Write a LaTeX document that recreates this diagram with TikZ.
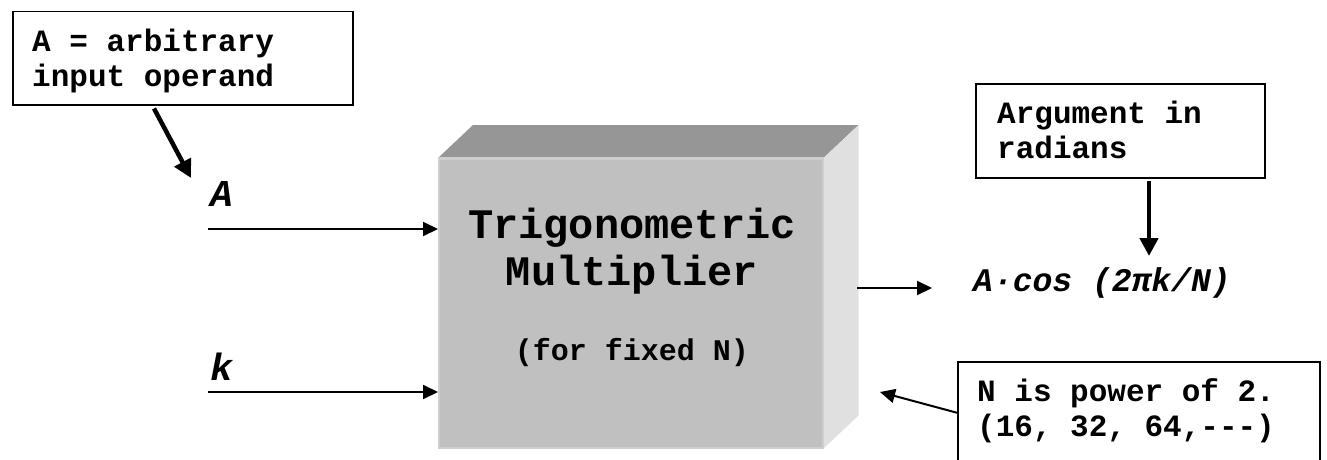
\documentclass[tikz,border=0pt]{standalone}
\usepackage{fontspec}
\setmainfont{Liberation Mono}[Ligatures=NoCommon]
\usetikzlibrary{arrows.meta,calc}
\definecolor{frontc}{RGB}{192,192,192}
\definecolor{topc}{RGB}{150,150,150}
\definecolor{sidec}{RGB}{224,224,224}
\definecolor{edgec}{RGB}{206,206,206}
\begin{document}
\begin{tikzpicture}[x=1pt,y=-1pt,
  note/.style={draw, line width=1.5pt, inner sep=0pt, anchor=north west},
  notetext/.style={font=\fontsize{31}{35}\selectfont\bfseries, align=left, inner sep=0pt, anchor=north west},
  siglabel/.style={font=\fontsize{38}{40}\selectfont\bfseries\itshape, inner sep=0pt},
  thinarrow/.style={line width=2pt, -{Triangle[length=15pt,width=14pt]}},
  thickarrow/.style={line width=4.5pt, -{Triangle[length=18pt,width=18pt]}},
  titlefont/.style={font=\fontsize{42}{47}\selectfont\bfseries, align=center, inner sep=0pt}
]
\useasboundingbox (0,0) rectangle (1327,460);

% 3D block
\node[fill=frontc, draw=edgec, line width=1.5pt, minimum width=384pt, minimum height=289pt, anchor=north west, inner sep=0pt] (mult) at (438,158) {};
\fill[topc] (mult.north west) -- ++(35,-33) -- ($(mult.north east)+(35,-33)$) -- (mult.north east) -- cycle;
\fill[sidec] (mult.north east) -- ++(35,-33) -- ($(mult.south east)+(35,-33)$) -- (mult.south east) -- cycle;
\draw[edgec, line width=1.5pt] (mult.north west) -- (mult.north east) -- (mult.south east);

\node[titlefont] (title) at (632,251) {Trigonometric\\Multiplier};
\node[font=\fontsize{30}{34}\selectfont\bfseries, inner sep=0pt] (fixed) at (632,353) {(for fixed N)};

% top-left note
\node[note, minimum width=340pt, minimum height=93pt] (opnote) at (12,11) {};
\node[notetext] (optext) at (32,29) {A = arbitrary\\input operand};

% input labels and arrows
\node[siglabel] (alab) at (222,194) {A};
\node[siglabel] (klab) at (222,367) {k};
\coordinate (ain) at (208,229);
\coordinate (kin) at (208,392);
\draw[thinarrow] (ain) -- (ain -| mult.west);
\draw[thinarrow] (kin) -- (kin -| mult.west);
\coordinate (atip) at (191,178);
\draw[thickarrow] ($(opnote.south west)+(142,3)$) -- (atip);

% output
\coordinate (outs) at (857,288);
\coordinate (oute) at (932,288);
\draw[thinarrow] (outs) -- (oute);
\node[font=\fontsize{33}{36}\selectfont\bfseries\itshape, inner sep=0pt, anchor=west] (cosl) at (973,283) {A·cos (2πk/N)};

% argument note
\node[note, minimum width=289pt, minimum height=94pt] (argnote) at (975,83) {};
\node[notetext] (argtext) at (997,101) {Argument in\\radians};
\coordinate (argtip) at (1149,256);
\draw[thickarrow] (argnote.south -| argtip) ++(0,2) -- (argtip);

% N note
\node[note, minimum width=362pt, minimum height=110pt] (nnote) at (957,361) {};
\node[notetext] (ntext) at (977,378) {N is power of 2.\\(16, 32, 64,\mbox{-}\mbox{-}\mbox{-})};
\coordinate (ntip) at (880,392);
\draw[thinarrow] ($(nnote.west)+(0,-4)$) -- (ntip);
\end{tikzpicture}
\end{document}
